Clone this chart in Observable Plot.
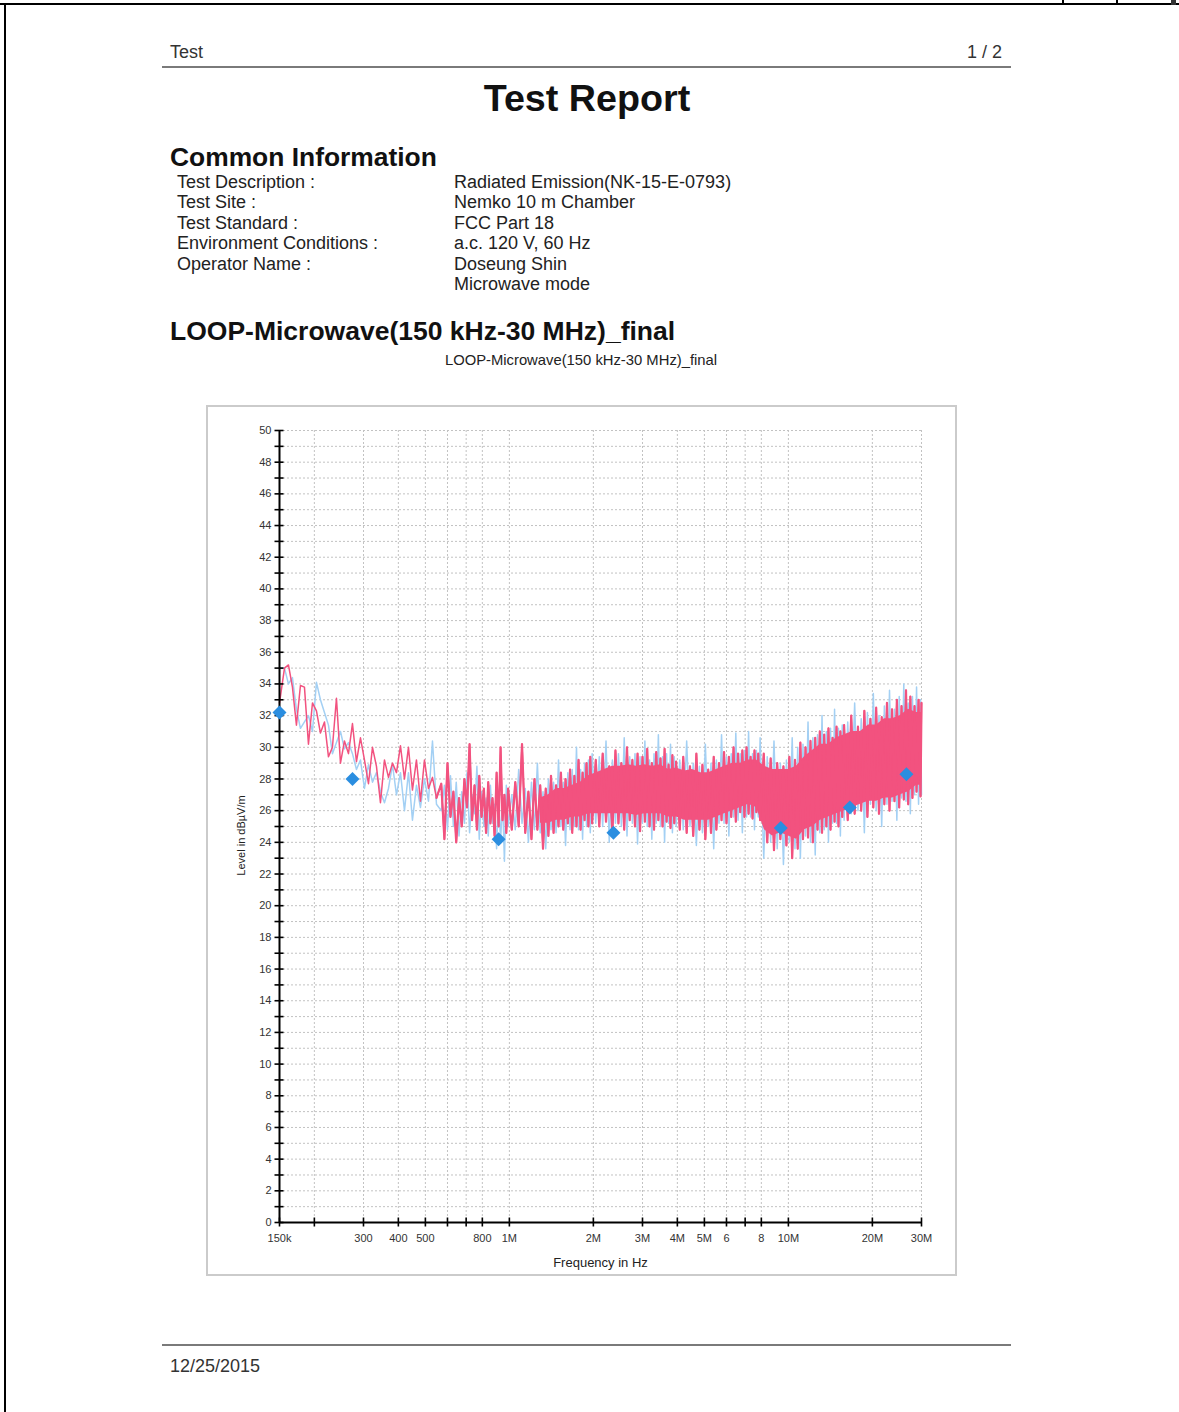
<!DOCTYPE html>
<html><head><meta charset="utf-8">
<script src="https://cdn.jsdelivr.net/npm/d3@7"></script>
<script src="https://cdn.jsdelivr.net/npm/@observablehq/plot@0.6"></script>
<style>
html,body{margin:0;padding:0;background:#fff}
body{width:1179px;height:1412px;position:relative;overflow:hidden;font-family:"Liberation Sans",Arial,sans-serif;color:#222}
.abs{position:absolute;white-space:nowrap}
.row{font-size:18px;line-height:18px}
</style></head><body>
<div class="abs" style="left:0;top:3px;width:1179px;height:2px;background:#000"></div>
<div class="abs" style="left:4px;top:3px;width:2px;height:1409px;background:#000"></div>
<div class="abs" style="left:1062px;top:0;width:2px;height:4px;background:#000"></div>
<div class="abs" style="left:1116px;top:0;width:2px;height:4px;background:#000"></div>
<div class="abs" style="left:1171px;top:0;width:5px;height:5px;background:#333"></div>

<div class="abs" style="left:170px;top:43px;font-size:18px;line-height:18px;color:#333">Test</div>
<div class="abs" style="right:177px;top:43px;font-size:18px;line-height:18px;color:#333">1 / 2</div>
<div class="abs" style="left:162px;top:66px;width:849px;height:1.5px;background:#7a7a7a"></div>
<div class="abs" style="left:0;width:1174px;text-align:center;top:80px;font-size:37.7px;line-height:37.7px;font-weight:bold;color:#111">Test Report</div>
<div class="abs" style="left:170px;top:144px;font-size:26.4px;line-height:26.4px;font-weight:bold;color:#111">Common Information</div>

<div id="info"></div>

<div class="abs" style="left:170px;top:318px;font-size:26.5px;line-height:26.5px;font-weight:bold;color:#111">LOOP-Microwave(150 kHz-30 MHz)_final</div>
<div class="abs" style="left:0;width:1162px;text-align:center;top:353px;font-size:14.8px;line-height:14.8px;color:#222">LOOP-Microwave(150 kHz-30 MHz)_final</div>

<div class="abs" style="left:206px;top:405px;width:751px;height:871px;box-sizing:border-box;border:2px solid #cbcbcb"></div>
<div id="chart" class="abs" style="left:207px;top:406px"></div>

<div class="abs" style="left:162px;top:1344px;width:849px;height:1.5px;background:#7a7a7a"></div>
<div class="abs" style="left:170px;top:1357px;font-size:18px;line-height:18px;color:#333">12/25/2015</div>

<script>
// ---- header texts ----
const infoLabels = ["Test Description :", "Test Site :", "Test Standard :", "Environment Conditions :", "Operator Name :", ""];
const infoValues = ["Radiated Emission(NK-15-E-0793)", "Nemko 10 m Chamber", "FCC Part 18", "a.c. 120 V, 60 Hz", "Doseung Shin", "Microwave mode"];

// ---- axis ticks ----
const xTicks = [150, 200, 300, 400, 500, 600, 700, 800, 1000, 2000, 3000, 4000, 5000, 6000, 7000, 8000, 10000, 20000, 30000];
const xTickLabels = ["150k", "", "300", "400", "500", "", "", "800", "1M", "2M", "3M", "4M", "5M", "6", "", "8", "10M", "20M", "30M"];
const yTicks = [0,1,2,3,4,5,6,7,8,9,10,11,12,13,14,15,16,17,18,19,20,21,22,23,24,25,26,27,28,29,30,31,32,33,34,35,36,37,38,39,40,41,42,43,44,45,46,47,48,49,50];
const yLabelTicks = [0,2,4,6,8,10,12,14,16,18,20,22,24,26,28,30,32,34,36,38,40,42,44,46,48,50];

// ---- traces, frequency in kHz, level in dBµV/m ----
// low-frequency part of the sweep
const freqSweep1 = [150.0,156.3,161.5,166.9,172.5,178.3,184.3,190.5,196.9,203.5,210.3,217.4,224.7,232.2,240.0,248.1,256.4,265.0,273.9,283.1,292.6,302.4,312.6,323.1,333.9,345.1,356.7,368.7,381.1,393.9,407.1,420.7,434.8,449.4,464.5,480.1,496.2,512.9,530.1,547.9];
const pinkSweep1 = [32.8,35.0,35.2,33.8,31.4,33.9,33.8,30.2,32.8,32.3,30.9,31.6,29.4,30.0,33.1,29.0,30.4,29.6,31.5,29.1,30.6,29.2,27.7,30.0,28.8,26.5,29.2,28.1,29.0,28.4,30.1,28.0,30.0,27.3,29.2,26.6,29.2,27.4,28.1,26.8];
const blueSweep1 = [35.0,35.0,34.0,34.4,32.4,31.2,31.6,32.0,31.0,34.1,33.0,32.2,31.4,29.6,30.3,31.0,29.9,30.3,29.6,28.6,29.2,27.4,28.9,27.8,28.4,27.2,26.5,27.4,28.9,27.0,28.4,26.0,28.4,25.4,27.6,26.2,28.0,26.6,30.4,26.4];

// dense part of the sweep (570 kHz - 30 MHz)
const freqSweep2 = [
  570,585,600,615,630,645,660,675,690,705,720,735,750,765,780,795,810,825,840,855,870,885,900,915,930,945,960,975,990,
  1020,1050,1080,1110,1140,1170,1200,1230,1260,1290,1320,1350,1380,1410,1440,1470,1500,1530,1560,1590,1620,1650,1680,1710,1740,1770,1800,1830,1860,1890,1920,1950,1980,
  2040,2100,2160,2220,2280,2340,2400,2460,2520,2580,2640,2700,2760,2820,2880,2940,3000,3060,3120,3180,3240,3300,3360,3420,3480,3540,3600,3660,3720,3780,3840,3900,3960,
  4080,4200,4320,4440,4560,4680,4800,4920,5040,5160,5280,5400,5520,5640,5760,5880,6000,6120,6240,6360,6480,6600,6720,6840,6960,7080,7200,7320,7440,7560,7680,7800,7920,
  8160,8400,8640,8880,9120,9360,9600,9840,10080,10320,10560,10800,11040,11280,11520,11760,12000,12240,12480,12720,12960,13200,13440,13680,13920,14160,14400,14640,14880,15120,15360,15600,15840,
  16320,16800,17280,17760,18240,18720,19200,19680,20160,20640,21120,21600,22080,22560,23040,23520,24000,24480,24960,25440,25920,26400,26880,27360,27840,28320,28800,29280,29760,30000];
const pinkSweep2 = [
  27.7,24.2,29.0,25.6,27.2,24.0,26.8,25.0,28.0,26.2,30.2,25.4,27.6,24.8,28.2,25.6,27.4,24.6,27.8,25.2,26.8,24.4,28.4,25.0,30.0,25.4,27.0,24.6,27.4,
  24.8,27.8,25.0,30.2,24.6,27.2,24.2,28.0,24.8,27.6,23.6,27.4,24.4,28.2,24.6,27.6,25.0,28.4,24.8,28.0,25.2,28.6,24.6,28.2,25.0,29.2,24.8,28.4,25.4,29.0,25.0,29.4,25.2,
  29.2,25.0,29.6,25.3,28.8,24.6,29.8,25.2,29.0,24.8,30.0,25.4,29.2,25.0,29.6,24.7,29.4,25.3,29.9,25.0,29.0,24.8,29.7,25.4,29.3,25.0,29.9,25.3,28.9,24.9,29.5,25.2,29.1,
  24.8,29.4,24.6,28.8,24.4,29.6,24.8,28.9,24.2,28.6,24.6,29.4,24.8,29.0,25.4,29.7,25.2,29.4,25.6,30.0,25.3,29.6,25.9,29.8,25.6,30.0,25.8,29.4,25.5,29.8,25.9,29.6,25.4,
  29.6,24.0,29.3,23.5,29.0,24.2,28.8,23.8,29.4,23.0,29.2,23.6,30.3,24.2,30.0,24.3,30.4,24.0,30.6,24.8,31.0,24.6,30.8,25.0,31.2,24.8,30.6,25.3,31.3,25.0,31.0,25.6,31.4,
  25.4,32.0,25.8,31.3,26.0,32.3,25.6,31.8,26.2,32.5,25.8,31.9,26.4,32.8,26.0,32.4,26.6,33.0,26.2,32.6,26.7,33.6,26.4,33.2,26.8,32.6,27.2,33.0,26.9,32.8];
const blueSweep2 = [
  26.0,27.6,24.8,28.2,25.0,27.8,24.4,27.2,25.2,28.4,24.6,27.0,25.8,28.8,24.2,27.2,25.0,26.8,24.4,27.6,25.2,26.4,23.6,27.0,24.0,26.8,22.8,27.6,25.0,
  27.0,24.8,28.6,25.2,27.4,24.0,27.8,24.8,29.0,24.6,27.2,23.6,28.0,24.8,27.8,24.6,29.2,25.0,27.8,23.8,28.4,24.8,28.6,25.0,30.0,24.8,28.6,24.2,29.0,25.0,29.2,24.6,29.6,
  25.2,29.4,25.0,30.4,24.0,29.2,25.2,29.6,25.0,30.6,24.4,29.4,25.2,29.6,23.9,29.4,25.2,30.4,25.0,29.2,24.2,29.6,25.2,30.8,25.0,29.4,24.0,29.6,25.2,30.2,24.6,29.4,25.0,
  29.2,24.8,30.4,25.0,29.0,23.8,28.8,24.6,30.2,25.0,29.0,23.6,29.2,25.2,30.8,25.2,29.4,24.4,29.6,25.6,30.9,25.4,29.6,24.6,29.8,25.6,31.0,25.6,29.6,24.8,29.8,25.6,30.6,
  23.0,29.4,24.0,30.4,23.6,29.0,22.6,29.2,24.0,30.6,23.6,30.0,23.0,30.2,24.4,31.6,24.0,30.6,23.2,30.8,24.6,32.0,24.8,31.0,24.0,31.2,25.2,32.4,25.2,31.2,24.4,31.4,25.4,
  31.6,25.8,32.8,26.0,31.8,24.6,32.2,26.4,33.4,26.0,32.0,25.0,32.6,26.4,33.6,26.6,32.4,25.4,33.2,26.8,34.0,26.6,32.8,25.8,33.2,27.0,33.8,26.4,33.0,27.0];

// solid core of the dense pink trace (kHz, low / high)
const freqCore = [1292.6,1380.8,1475.0,1575.7,1683.3,1798.2,1920.9,2052.0,2192.0,2341.6,2501.4,2672.1,2854.5,3049.3,3257.4,3479.7,3717.2,3970.9,4241.9,4531.4,4840.7,5171.1,5524.0,5901.0,6303.7,6733.9,7193.5,7684.4,8208.9,8769.1,9367.6,10006.9,10689.9,11419.4,12198.8,13031.3,13920.7,14870.7,15885.6,16969.8,18128.0,19365.2,20686.8,22098.6,23606.8,25217.9,26939.0,28777.5,30000];
const coreHigh = [26.8,27.0,27.4,27.4,27.6,27.8,28.2,28.4,28.6,28.8,28.8,28.9,28.8,28.9,28.8,28.9,28.6,28.7,28.5,28.6,28.4,28.4,28.6,28.8,29.0,29.0,29.2,29.2,28.8,28.6,28.6,28.6,28.8,29.4,29.8,30.2,30.2,30.6,30.8,31.0,31.0,31.4,31.4,31.8,31.8,32.0,32.4,32.2,32.2];
const coreLow = [25.2,25.2,25.4,25.4,25.6,25.6,25.8,25.8,25.8,25.8,25.8,25.8,25.7,25.8,25.8,25.8,25.6,25.6,25.4,25.4,25.4,25.4,25.6,25.8,26.0,26.2,26.4,26.2,24.8,24.4,24.6,24.4,24.2,24.8,25.0,25.4,25.6,25.8,26.0,26.2,26.4,26.6,26.6,26.8,26.8,27.0,27.2,27.6,27.6];

// ---- final measurement points ----
const finalFreq = [150, 274, 915, 2360, 9390, 16600, 26500];
const finalLevel = [32.2, 28.0, 24.2, 24.6, 24.9, 26.2, 28.3];

// info rows
const info = document.getElementById("info");
const rowTops = [173, 193, 213.5, 234, 255, 275];
infoLabels.forEach((t, i) => {
  const a = document.createElement("div");
  a.className = "abs row"; a.style.left = "177px"; a.style.top = rowTops[i] + "px"; a.textContent = t;
  const b = document.createElement("div");
  b.className = "abs row"; b.style.left = "454px"; b.style.top = rowTops[i] + "px"; b.textContent = infoValues[i];
  info.appendChild(a); info.appendChild(b);
});

const sweepFreq = freqSweep1.concat(freqSweep2);
const pinkLevels = pinkSweep1.concat(pinkSweep2);
const blueLevels = blueSweep1.concat(blueSweep2);
const n = Math.min(sweepFreq.length, pinkLevels.length, blueLevels.length);
const lineData = sweepFreq.slice(0, n).map((f, i) => ({f, pink: pinkLevels[i], blue: blueLevels[i]}));
const denseData = lineData.filter(d => d.f >= 547.9);
const coreData = freqCore.map((f, i) => ({f, lo: coreLow[i], hi: coreHigh[i]}));
const finals = finalFreq.map((f, i) => ({f, v: finalLevel[i]}));
const xLabelData = xTicks.map((t, i) => ({t, label: xTickLabels[i]})).filter(d => d.label);

const PINK = "#f2527f", BLUE = "#a3d0f4", GRID = "#c2c2c2";

const chart = Plot.plot({
  width: 748, height: 868,
  marginLeft: 72, marginRight: 34, marginTop: 24, marginBottom: 52,
  x: {type: "log", domain: [150, 30000]},
  y: {domain: [0, 50]},
  style: {fontFamily: "'Liberation Sans', Arial, sans-serif", fontSize: "11px", color: "#333", background: "transparent", overflow: "visible"},
  marks: [
    Plot.ruleY(yTicks, {stroke: GRID, strokeDasharray: "2,2", strokeWidth: 1}),
    Plot.ruleX(xTicks, {stroke: GRID, strokeDasharray: "2,2", strokeWidth: 1}),
    Plot.lineY(lineData, {x: "f", y: "blue", stroke: BLUE, strokeWidth: 1.5}),
    Plot.areaY(coreData, {x: "f", y1: "lo", y2: "hi", fill: PINK}),
    Plot.lineY(lineData, {x: "f", y: "pink", stroke: PINK, strokeWidth: 1.5}),
    Plot.lineY(denseData, {x: "f", y: "pink", stroke: PINK, strokeWidth: 2.2}),
    Plot.ruleX([150], {stroke: "#000", strokeWidth: 2}),
    Plot.ruleY([0], {stroke: "#000", strokeWidth: 2}),
    Plot.axisY({ticks: yLabelTicks, tickSize: 0, tickPadding: 8, tickFormat: d => String(d), label: null, fill: "#333"}),
    Plot.axisY({ticks: yTicks, tickSize: 9, dx: 4.5, tickFormat: () => "", label: null, stroke: "#000", strokeWidth: 1.6}),
    Plot.axisX({ticks: xTicks, tickSize: 9, dy: -4.5, tickFormat: () => "", label: null, stroke: "#000", strokeWidth: 1.6}),
    Plot.text(xLabelData, {x: "t", text: "label", frameAnchor: "bottom", lineAnchor: "middle", dy: 16, fontSize: 11, fill: "#333"}),
    Plot.dot(finals, {x: "f", y: "v", symbol: "diamond2", r: 6.3, fill: "#2b8ee0", stroke: "none"}),
    Plot.text(["Level in dBµV/m"], {frameAnchor: "left", textAnchor: "middle", lineAnchor: "middle", rotate: -90, dx: -38, dy: 9, fontSize: 11, fill: "#222"}),
    Plot.text(["Frequency in Hz"], {frameAnchor: "bottom", lineAnchor: "middle", dy: 40, fontSize: 13, fill: "#222"})
  ]
});
document.getElementById("chart").appendChild(chart);
</script>
</body></html>
